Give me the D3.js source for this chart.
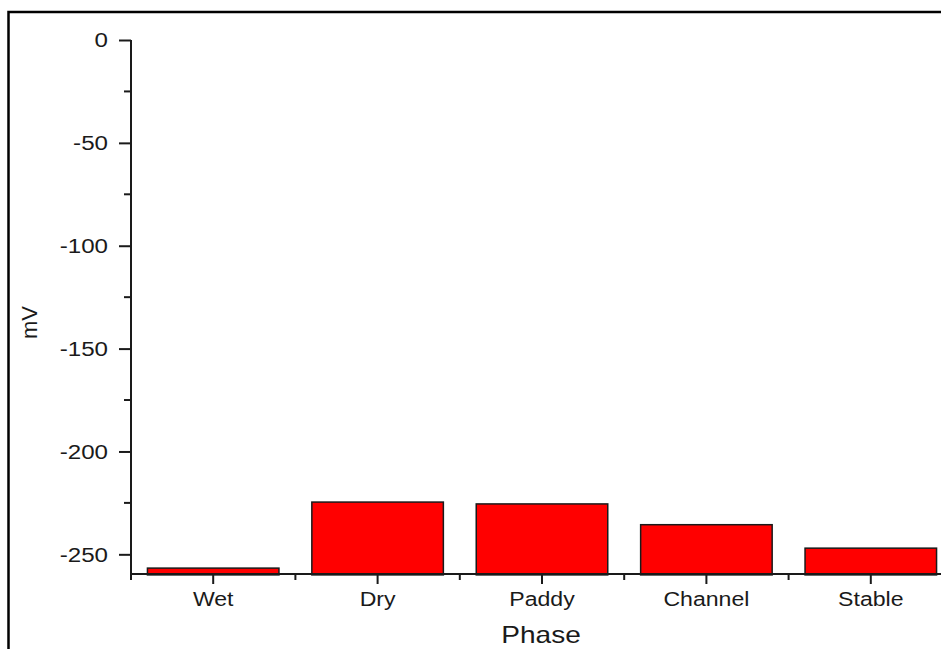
<!DOCTYPE html>
<html>
<head>
<meta charset="utf-8">
<script src="https://cdn.jsdelivr.net/npm/d3@7"></script>
<style>
  html, body { margin: 0; padding: 0; background: #fff; }
  svg { display: block; }
  text { font-family: "Liberation Sans", Arial, sans-serif; fill: #1a1a1a; }
</style>
</head>
<body>
<svg id="chart" width="941" height="649"></svg>
<script>
const categories = ["Wet", "Dry", "Paddy", "Channel", "Stable"];
const values = [-256.7, -224.6, -225.5, -235.6, -247.0];
const yTicks = [0, -50, -100, -150, -200, -250];
const yMinorTicks = [-25, -75, -125, -175, -225];
const xTitle = "Phase";
const yTitle = "mV";

const svg = d3.select("#chart");
const W = 941, H = 649;
const left = 131, axisY = 574;

const y = d3.scaleLinear().domain([0, -260]).range([40, 574.9]);
const x = d3.scaleBand().domain(categories).range([left, left + 5 * 164.4])
  .paddingInner(0.2).paddingOuter(0.1);

// frame (top and left lines)
svg.append("path")
  .attr("d", `M8.5,${H} L8.5,12 L${W},12`)
  .attr("fill", "none").attr("stroke", "#000").attr("stroke-width", 2.5);

// bars
svg.append("g").selectAll("rect").data(categories).join("rect")
  .attr("x", d => x(d))
  .attr("width", x.bandwidth())
  .attr("y", (d, i) => y(values[i]))
  .attr("height", (d, i) => y(-260) - y(values[i]))
  .attr("fill", "#ff0000")
  .attr("stroke", "#1a1a1a")
  .attr("stroke-width", 1.5);

// y axis
const yAxis = d3.axisLeft(y).tickValues(yTicks).tickSize(12).tickSizeOuter(0).tickPadding(11)
  .tickFormat(d => String(d));
const gy = svg.append("g").attr("transform", `translate(${left},0)`).call(yAxis);
gy.select(".domain").attr("stroke", "#1a1a1a").attr("stroke-width", 2)
  .attr("d", `M0,${y(0)}V${axisY}`);
gy.selectAll(".tick line").attr("stroke", "#1a1a1a").attr("stroke-width", 2);
gy.selectAll(".tick text").attr("font-size", 21).attr("fill", "#1a1a1a")
  .attr("font-family", "Liberation Sans, Arial, sans-serif")
  .attr("transform", "translate(-23,0) scale(1.15,1) translate(23,0)");
// minor y ticks
svg.append("g").selectAll("line").data(yMinorTicks).join("line")
  .attr("x1", left - 7).attr("x2", left)
  .attr("y1", d => y(d)).attr("y2", d => y(d))
  .attr("stroke", "#1a1a1a").attr("stroke-width", 2);

// x axis
const xAxis = d3.axisBottom(x).tickSize(10).tickSizeOuter(0).tickPadding(7);
const gx = svg.append("g").attr("transform", `translate(0,${axisY})`).call(xAxis);
gx.select(".domain").attr("stroke", "#1a1a1a").attr("stroke-width", 2)
  .attr("d", `M${left},0H${W + 10}`);
gx.selectAll(".tick line").attr("stroke", "#1a1a1a").attr("stroke-width", 2);
gx.selectAll(".tick text").attr("font-size", 21).attr("fill", "#1a1a1a")
  .attr("font-family", "Liberation Sans, Arial, sans-serif")
  .attr("transform", "scale(1.1,1)")
  .attr("x", 0);
// minor x ticks at category boundaries
const bounds = categories.map(c => x(c) - x.step() * x.paddingInner() / 2);
svg.append("g").selectAll("line").data(bounds).join("line")
  .attr("x1", d => d).attr("x2", d => d)
  .attr("y1", axisY).attr("y2", axisY + 6)
  .attr("stroke", "#1a1a1a").attr("stroke-width", 2);

// titles
svg.append("text")
  .attr("transform", `translate(541,643) scale(1.22,1)`)
  .attr("text-anchor", "middle").attr("font-size", 23).text(xTitle);
svg.append("text")
  .attr("transform", `translate(37,322.5) rotate(-90)`)
  .attr("text-anchor", "middle").attr("font-size", 22).text(yTitle);
</script>
</body>
</html>
